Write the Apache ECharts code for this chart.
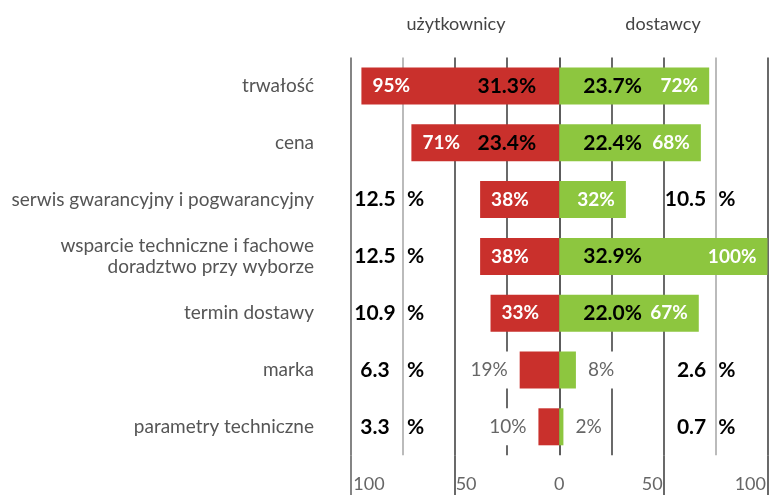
<!DOCTYPE html>
<html>
<head>
<meta charset="utf-8">
<script src="https://cdn.jsdelivr.net/npm/echarts@6/dist/echarts.min.js"></script>
<style>
html,body{margin:0;padding:0;background:#fff}
#chart{width:769px;height:495px}
</style>
</head>
<body>
<div id="chart"></div>
<script>
var categories = ['trwałość', 'cena', 'serwis gwarancyjny i pogwarancyjny',
  'wsparcie techniczne i fachowe\ndoradztwo przy wyborze', 'termin dostawy', 'marka', 'parametry techniczne'];
var userRel = [95, 71, 38, 38, 33, 19, 10];
var supplierRel = [72, 68, 32, 100, 67, 8, 2];
var userShare = ['31.3', '23.4', '12.5', '12.5', '10.9', '6.3', '3.3'];
var supplierShare = ['23.7', '22.4', '10.5', '32.9', '22.0', '2.6', '0.7'];
var tickValues = [-100, -50, 0, 50, 100];
var tickLabels = ['100', '50', '0', '50', '100'];

var FONT = 'Lato';
var RED = '#c9302c', GREEN = '#8dc63f';

function relData(arr, sign) {
  return arr.map(function (v) {
    var small = v < 30;
    var lab = small ? {
      position: sign < 0 ? 'left' : 'right', distance: 8, color: '#666', fontWeight: 'normal',
      fontSize: 19, backgroundColor: '#fff', padding: [9, 4]
    } : {
      position: sign < 0 ? 'insideLeft' : 'insideRight', distance: 11
    };
    return { value: sign * v, label: lab };
  });
}
function shareData(arr, sign) {
  return arr.map(function (v) {
    return { value: sign * v, label: { show: v >= 60 } };
  });
}

var chart = echarts.init(document.getElementById('chart'));
var shareRich = {
  n: { width: 40, align: 'right', fontWeight: 'bold', fontSize: 21, color: '#000', fontFamily: FONT },
  p: { padding: [0, 0, 0, 12], fontWeight: 'bold', fontSize: 21, color: '#000', fontFamily: FONT }
};
var option = {
  animation: false,
  title: [
    { text: 'użytkownicy', left: 451, top: 10, textAlign: 'center',
      textStyle: { fontFamily: FONT, fontSize: 18, fontWeight: 'normal', color: '#444' } },
    { text: 'dostawcy', left: 658, top: 10, textAlign: 'center',
      textStyle: { fontFamily: FONT, fontSize: 18, fontWeight: 'normal', color: '#444' } }
  ],
  grid: [
    { left: 351, right: 1.5, top: 57.6, bottom: 39.8 },
    { left: 351, right: 1.5, top: 455.2, bottom: 0 }
  ],
  xAxis: [
    { type: 'value', gridIndex: 0, min: -100, max: 100, interval: 25,
      axisLine: { show: false }, axisTick: { show: false }, axisLabel: { show: false },
      splitLine: { show: true, lineStyle: { width: 1.6,
        color: ['#666', '#aaa', '#444', '#444', '#333', '#444', '#444', '#aaa', '#444'] } } },
    { type: 'value', gridIndex: 1, min: -100, max: 100, interval: 50,
      axisLine: { show: false }, axisTick: { show: false },
      splitLine: { show: true, lineStyle: { width: 1.6,
        color: ['#666', '#444', 'rgba(0,0,0,0)', '#444', '#444'] } },
      axisLabel: {
        inside: true, margin: 2, color: '#666', fontFamily: FONT, fontSize: 18,
        formatter: function (v) {
          var i = tickValues.indexOf(v);
          if (i < 0) return '';
          var key = v === 0 ? 'c' : (v < 0 ? 'l' : 'r') + tickLabels[i].length;
          return '{' + key + '|' + tickLabels[i] + '}';
        },
        rich: {
          c: {},
          l3: { padding: [0, 0, 0, 36] },
          l2: { padding: [0, 0, 0, 22] },
          r3: { padding: [0, 34, 0, 0] },
          r2: { padding: [0, 22, 0, 0] }
        }
      } }
  ],
  yAxis: [
    { type: 'category', gridIndex: 0, data: categories, inverse: true,
      axisLine: { show: false }, axisTick: { show: false },
      axisLabel: { margin: 37, color: '#555', fontFamily: FONT, fontSize: 19, lineHeight: 21, interval: 0 } },
    { type: 'category', gridIndex: 0, data: categories, inverse: true, position: 'left',
      axisLine: { show: false }, axisTick: { show: false },
      axisLabel: { inside: true, margin: 4, interval: 0, rich: shareRich,
        formatter: function (v, i) {
          return userRel[i] < 60 ? '{n|' + userShare[i] + '}{p|%}' : '';
        } } },
    { type: 'category', gridIndex: 0, data: categories, inverse: true, position: 'right',
      axisLine: { show: false }, axisTick: { show: false },
      axisLabel: { inside: true, margin: 32, interval: 0, rich: shareRich,
        formatter: function (v, i) {
          return supplierRel[i] < 60 ? '{n|' + supplierShare[i] + '}{p|%}' : '';
        } } },
    { type: 'value', gridIndex: 1, show: false }
  ],
  series: [
    { name: 'użytkownicy', type: 'bar', xAxisIndex: 0, yAxisIndex: 0, barWidth: 37, barGap: '-100%',
      itemStyle: { color: RED }, data: relData(userRel, -1),
      label: { show: true, color: '#fff', fontWeight: 'bold', fontSize: 19, fontFamily: FONT,
        formatter: function (p) { return userRel[p.dataIndex] + '%'; } } },
    { name: 'dostawcy', type: 'bar', xAxisIndex: 0, yAxisIndex: 0, barWidth: 37, barGap: '-100%',
      itemStyle: { color: GREEN }, data: relData(supplierRel, 1),
      label: { show: true, color: '#fff', fontWeight: 'bold', fontSize: 19, fontFamily: FONT,
        formatter: function (p) { return supplierRel[p.dataIndex] + '%'; } } },
    { name: 'udział użytkownicy', type: 'bar', xAxisIndex: 0, yAxisIndex: 0, barWidth: 37, barGap: '-100%',
      itemStyle: { color: 'rgba(0,0,0,0)' }, data: shareData(userRel, -1),
      label: { position: 'insideRight', distance: 23, color: '#000', fontWeight: 'bold', fontSize: 21, fontFamily: FONT,
        formatter: function (p) { return userShare[p.dataIndex] + '%'; } } },
    { name: 'udział dostawcy', type: 'bar', xAxisIndex: 0, yAxisIndex: 0, barWidth: 37, barGap: '-100%',
      itemStyle: { color: 'rgba(0,0,0,0)' }, data: shareData(supplierRel, 1),
      label: { position: 'insideLeft', distance: 24, color: '#000', fontWeight: 'bold', fontSize: 21, fontFamily: FONT,
        formatter: function (p) { return supplierShare[p.dataIndex] + '%'; } } }
  ]
};
chart.setOption(option);
</script>
</body>
</html>
